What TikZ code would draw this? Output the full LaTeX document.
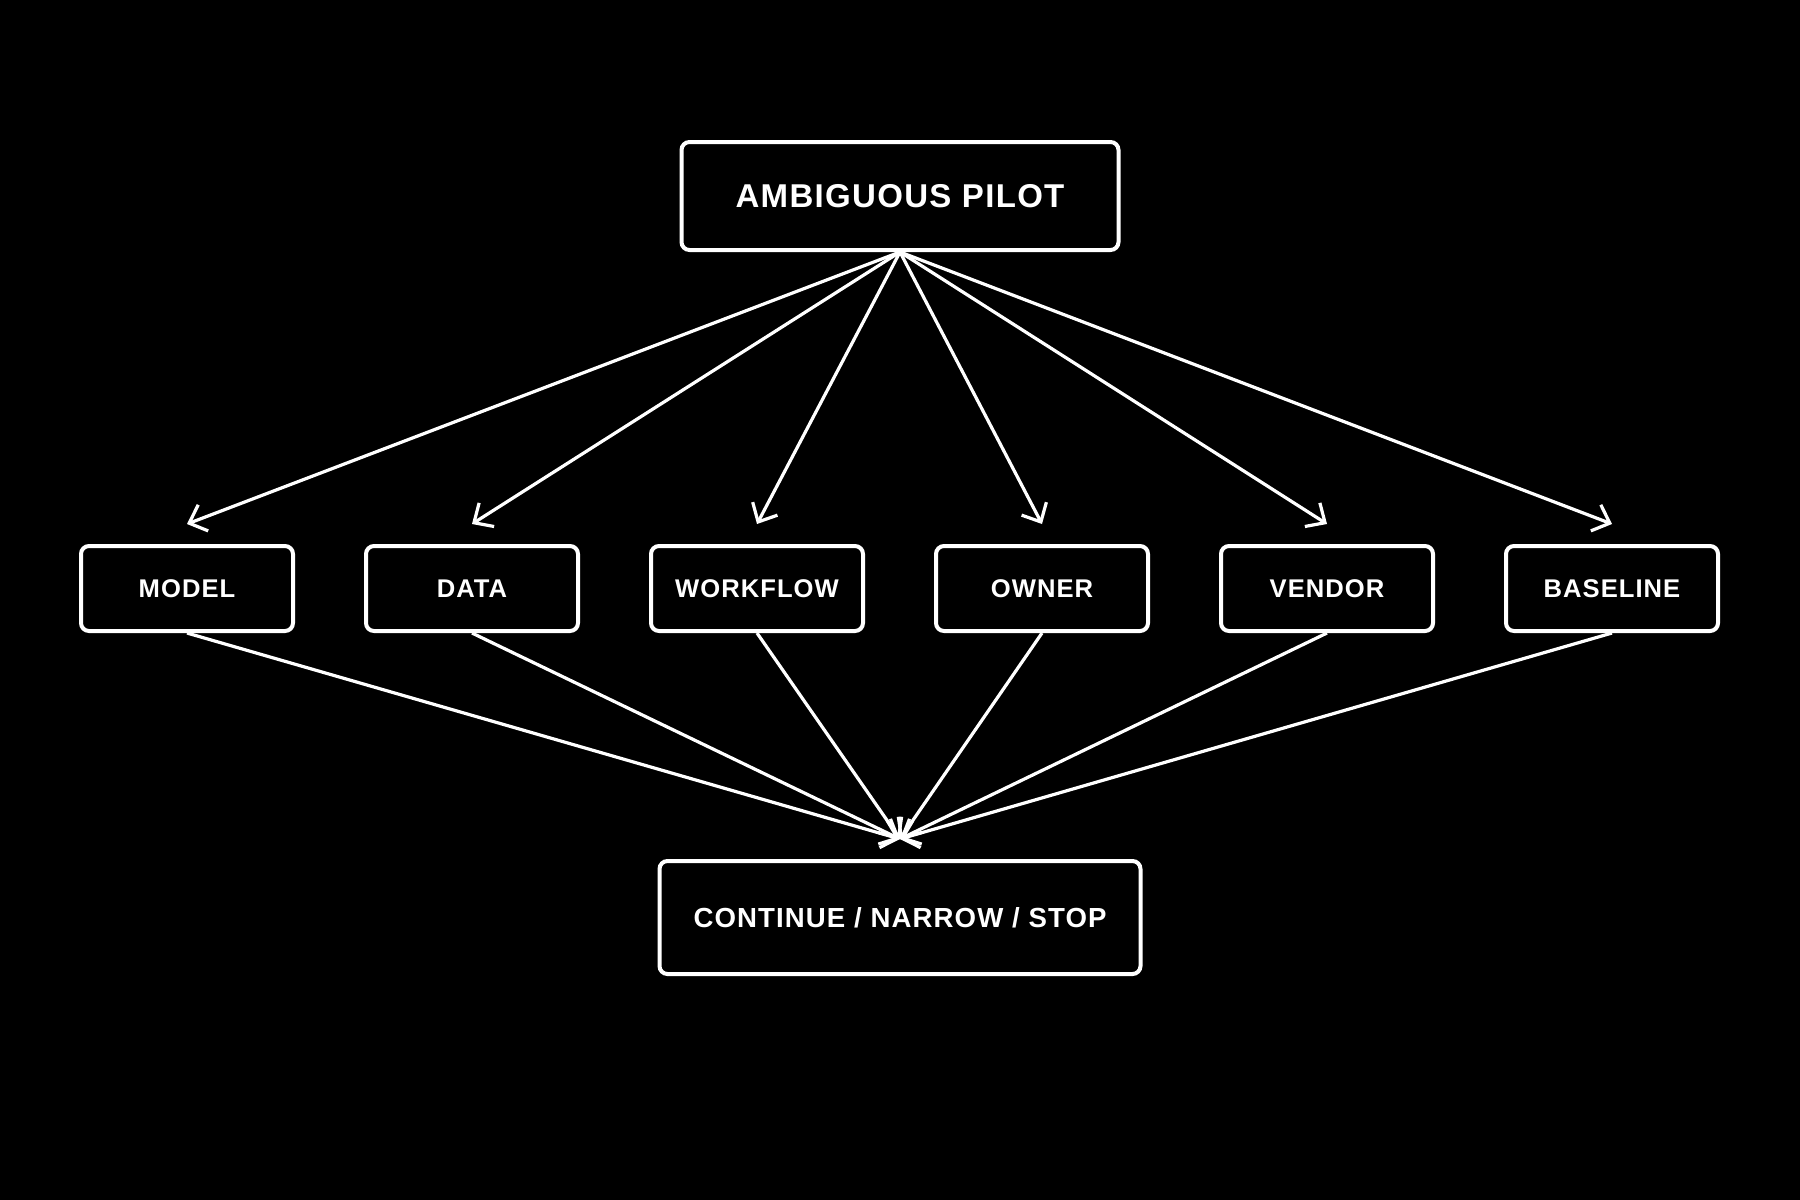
\documentclass[tikz,border=0pt]{standalone}
\usepackage{fontspec}
\setmainfont{Liberation Sans}[LetterSpace=4]
\usetikzlibrary{arrows.meta,positioning}
\definecolor{cbg}{HTML}{000000}
\definecolor{cline}{HTML}{FFFFFF}

\begin{document}
\begin{tikzpicture}[x=0.5pt, y=-0.5pt, node distance=34.5pt,
    every node/.style={draw=cline, line width=2pt, rounded corners=4pt,
      text=cline, font=\bfseries, align=center},
    factor/.style={minimum width=106pt, minimum height=42.5pt,
      font=\fontsize{12.8}{15}\selectfont\bfseries},
    link/.style={draw=cline, line width=1.6pt,
      -{Straight Barb[length=7.5pt,width=14pt,line width=1.6pt]}}]
    \fill[cbg] (0,0) rectangle (1800,1200);
    \useasboundingbox (0,0) rectangle (1800,1200);
    \node[minimum width=218.5pt, minimum height=54pt,
      font=\fontsize{16.5}{19}\selectfont\bfseries] (pilot) at (900,196) {AMBIGUOUS PILOT};
    \node[factor] (model) at (187,588.5) {MODEL};
    \node[factor, right=of model] (data) {DATA};
    \node[factor, right=of data] (workflow) {WORKFLOW};
    \node[factor, right=of workflow] (owner) {OWNER};
    \node[factor, right=of owner] (vendor) {VENDOR};
    \node[factor, right=of vendor] (baseline) {BASELINE};
    \node[minimum width=240.5pt, minimum height=56.5pt,
      font=\fontsize{13.8}{16}\selectfont\bfseries] (decision) at (900,917.5) {CONTINUE / NARROW / STOP};
    % pilot fans out to each factor
    \draw[link] (pilot.south) -- ([yshift=10pt]model.north);
    \draw[link] (pilot.south) -- ([yshift=10pt]data.north);
    \draw[link] (pilot.south) -- ([yshift=10pt]workflow.north);
    \draw[link] (pilot.south) -- ([yshift=10pt]owner.north);
    \draw[link] (pilot.south) -- ([yshift=10pt]vendor.north);
    \draw[link] (pilot.south) -- ([yshift=10pt]baseline.north);
    % factors feed the decision
    \draw[link] (model.south) -- ([yshift=10pt]decision.north);
    \draw[link] (data.south) -- ([yshift=10pt]decision.north);
    \draw[link] (workflow.south) -- ([yshift=10pt]decision.north);
    \draw[link] (owner.south) -- ([yshift=10pt]decision.north);
    \draw[link] (vendor.south) -- ([yshift=10pt]decision.north);
    \draw[link] (baseline.south) -- ([yshift=10pt]decision.north);
  \end{tikzpicture}
\end{document}
